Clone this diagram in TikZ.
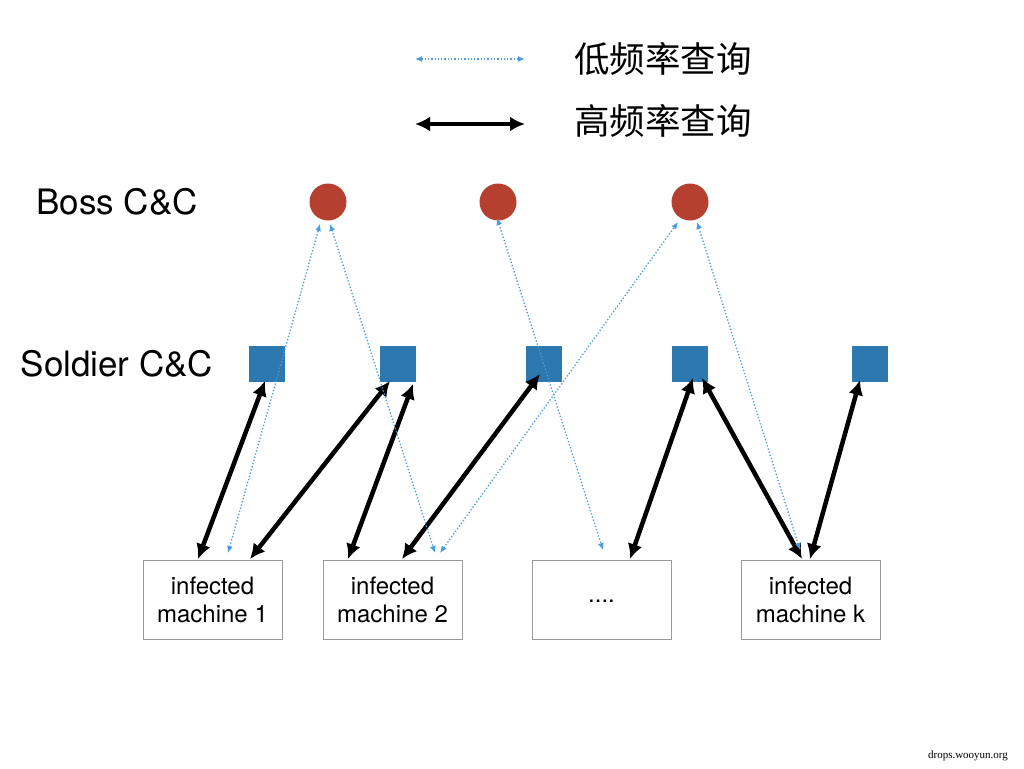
\documentclass[tikz,border=0pt]{standalone}
\usepackage{fontspec}
\setmainfont{TeX Gyre Heros}
\newfontfamily\cjk{Noto Sans CJK SC}
\newfontfamily\wmf{Liberation Serif}
\usetikzlibrary{arrows.meta}
\definecolor{boss}{HTML}{B5402F}
\definecolor{sold}{HTML}{2E78B0}
\definecolor{lblue}{HTML}{4A9BE0}
\begin{document}
\begin{tikzpicture}[x=1pt,y=-1pt,
 hi/.style={line width=4.5pt,{Latex[length=15pt,width=15pt]}-{Latex[length=15pt,width=15pt]}},
 lo/.style={lblue,line width=1.3pt,dotted,{Latex[length=7pt,width=6pt]}-{Latex[length=7pt,width=6pt]}},
 bossn/.style={circle,fill=boss,minimum size=37pt,inner sep=0},
 soldn/.style={rectangle,fill=sold,minimum size=36pt,inner sep=0},
 box/.style={draw=gray!80,line width=1pt,minimum width=139pt,minimum height=79pt,align=center,font=\fontsize{24}{28}\selectfont},
 lbl/.style={font=\fontsize{35}{40}\selectfont}]
\useasboundingbox (0,0) rectangle (1024,768);
% legend
\coordinate (l1a) at (415,59); \coordinate (l1b) at (525,59);
\coordinate (l2a) at (415,124); \coordinate (l2b) at (525,124);
\draw[lo] (l1a) -- (l1b);
\draw[hi] (l2a) -- (l2b);
\node[font=\cjk\fontsize{35.5}{40}\selectfont] (t1) at (663,59) {低频率查询};
\node[font=\cjk\fontsize{35.5}{40}\selectfont] (t2) at (663,121) {高频率查询};
% labels
\node[lbl] (bl) at (117,202) {Boss C\&C};
\node[lbl] (sl) at (117,364) {Soldier C\&C};
\node[bossn] (b1) at (328,202) {};
\node[bossn] (b2) at (498,202) {};
\node[bossn] (b3) at (690,202) {};
\node[soldn] (s1) at (267,364) {};
\node[soldn] (s2) at (398,364) {};
\node[soldn] (s3) at (544,364) {};
\node[soldn] (s4) at (690,364) {};
\node[soldn] (s5) at (870,364) {};
\node[box] (m1) at (212.5,600) {infected\\machine 1};
\node[box] (m2) at (392.5,600) {infected\\machine 2};
\node[box] (m3) at (601.5,600) {\raisebox{-4pt}{....}};
\node[box] (m4) at (810.5,600) {infected\\machine k};
% high freq
\draw[hi] (198,559) -- (265,381);
\draw[hi] (250,559) -- (390,381);
\draw[hi] (348,559) -- (413,384);
\draw[hi] (402,559) -- (540,374);
\draw[hi] (630,559) -- (693,378);
\draw[hi] (702,378) -- (802,559);
\draw[hi] (810,559) -- (860,380);
% low freq
\draw[lo] (228,553) -- (320,224);
\draw[lo] (330,224) -- (435,553);
\draw[lo] (497,218) -- (603,550);
\draw[lo] (440,553) -- (678,222);
\draw[lo] (697,222) -- (800,550);
\node[font=\wmf\fontsize{11}{12}\selectfont] (wm) at (968,756) {drops.wooyun.org};
\end{tikzpicture}
\end{document}
